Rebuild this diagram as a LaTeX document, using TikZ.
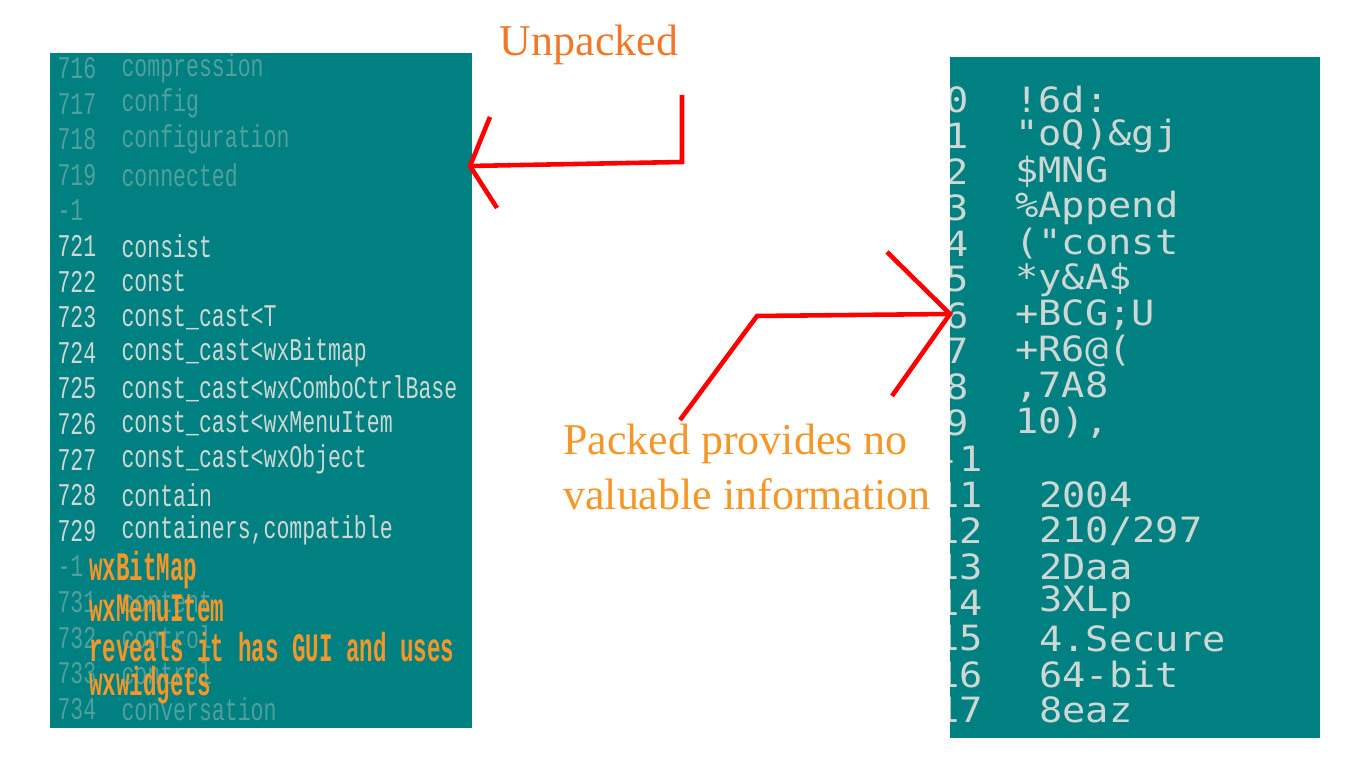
\documentclass[tikz,border=0pt]{standalone}
\usepackage{fontspec}
\setmainfont{Liberation Serif}
\newfontfamily\codefont{Liberation Mono}
\newfontfamily\hexfont{DejaVu Sans Mono}
\usetikzlibrary{calc}
\definecolor{panelteal}{RGB}{0,128,128}
\definecolor{codegrey}{RGB}{205,215,212}
\definecolor{dimgrey}{RGB}{80,160,158}
\definecolor{noteorange}{RGB}{245,150,40}
\definecolor{titleorange}{RGB}{240,120,40}

\begin{document}
\begin{tikzpicture}[x=0.01cm, y=-0.01cm, line width=1.3pt,
  code/.style={anchor=west, inner sep=0pt, text=codegrey, font=\codefont\fontsize{9}{9}\selectfont, xscale=0.68},
  dim/.style={code, text=dimgrey},
  hex/.style={anchor=west, inner sep=0pt, text=codegrey, font=\hexfont\fontsize{11}{11}\selectfont, yscale=0.9},
  note/.style={anchor=west, inner sep=0pt, text=noteorange, font=\codefont\bfseries\fontsize{10}{10}\selectfont, xscale=0.64, yscale=1.15},
  pointer/.style={draw=red}]

\useasboundingbox (0,0) rectangle (1366,768);
\fill[panelteal] (50,53) rectangle (472,728);
\fill[panelteal] (950,57) rectangle (1320,738);

% unpacked strings
\foreach \n/\s [count=\i from 0] in {716/compression,717/config,718/configuration,719/connected,-1/{}}
  {\node[dim] (un\i) at (56,{68+35.6*\i}) {\n};
   \node[dim] (us\i) at (120,{68+35.6*\i}) {\s};}
\foreach \n/\s [count=\i from 5] in {721/consist,722/const,723/const\_cast<T,724/const\_cast<wxBitmap,
  725/const\_cast<wxComboCtrlBase,726/const\_cast<wxMenuItem,727/const\_cast<wxObject,728/contain,
  729/{containers,compatible}}
  {\node[code] (un\i) at (56,{68+35.6*\i}) {\n};
   \node[code] (us\i) at (120,{68+35.6*\i}) {\s};}
\foreach \n/\s [count=\i from 14] in {-1/{},731/content,732/control,733/control,734/conversation}
  {\node[dim] (un\i) at (56,{68+35.6*\i}) {\n};
   \node[dim] (us\i) at (120,{68+35.6*\i}) {\s};}

\node[note] (w1) at (88,570) {wxBitMap};
\node[note] (w2) at (88,608) {wxMenuItem};
\node[note] (w3) at (88,647) {reveals it has GUI and uses};
\node[note] (w4) at (88,685) {wxwidgets};

% packed strings
\begin{scope}
\clip (950,57) rectangle (1320,738);
\foreach \n/\s [count=\i from 0] in {0/!6d:,1/"oQ)\&gj,2/\$MNG,3/\%Append,4/("const,5/*y\&A\$,
  6/+BCG;U,7/+R6@(,8/{,7A8},9/{10),}}
  {\node[hex] (pn\i) at (943,{100+35.9*\i}) {\n};
   \node[hex] (ps\i) at (1013,{100+35.9*\i}) {\s};}
\node[hex] (pn10) at (934,459) {-1};
\foreach \n/\s [count=\i from 11] in {11/2004,12/{210/297},13/2Daa,14/3XLp,15/4.Secure,16/64-bit,17/8eaz}
  {\node[hex] (pn\i) at (934,{100+35.9*\i}) {\n};
   \node[hex] (ps\i) at (1037,{100+35.9*\i}) {\s};}
\end{scope}

% labels
\node[text=titleorange, font=\fontsize{12.5}{12.5}\selectfont, inner sep=0pt] (unpacked) at (589,45) {Unpacked};
\node[text=noteorange, font=\fontsize{12.5}{15.5}\selectfont, align=left, anchor=west, inner sep=0pt] (packed) at (561,467)
  {Packed provides no\\valuable information};

% arrows
\coordinate (a1) at (682,95);
\coordinate (a2) at (682,162);
\coordinate (a3) at (470,166);
\draw[pointer] (a1) -- (a2) -- (a3);
\draw[pointer] (490,117) -- (a3) -- (497,208);
\coordinate (b1) at (680,420);
\coordinate (b2) at (757,316);
\coordinate (b3) at (950,314);
\draw[pointer] (b1) -- (b2) -- (b3);
\draw[pointer] (887,252) -- (b3) -- (892,396);

\end{tikzpicture}
\end{document}
